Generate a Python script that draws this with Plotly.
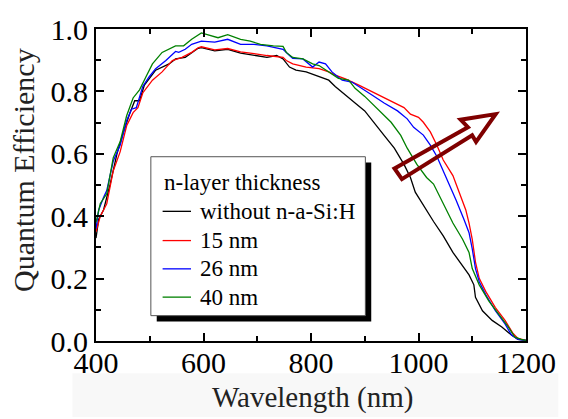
import plotly.graph_objects as go

# ---------------- data ----------------
wl_black = [400, 405, 414, 426, 439, 451, 463, 472, 481, 490, 511, 536, 548, 566, 590, 596, 621, 645, 669, 694, 718, 736, 748, 760, 772, 791, 815, 833, 845, 864, 882, 900, 918, 936, 955, 973, 985, 994, 1028, 1046, 1064, 1082, 1094, 1103, 1106, 1119, 1137, 1155, 1173, 1185, 1200]
qe_black = [0.33, 0.39, 0.42, 0.50, 0.60, 0.67, 0.73, 0.77, 0.77, 0.82, 0.868, 0.888, 0.904, 0.909, 0.938, 0.94, 0.93, 0.935, 0.923, 0.915, 0.909, 0.915, 0.904, 0.878, 0.868, 0.8625, 0.847, 0.836, 0.816, 0.79, 0.763, 0.7375, 0.70, 0.659, 0.618, 0.566, 0.524, 0.477, 0.383, 0.337, 0.284, 0.243, 0.212, 0.18, 0.14, 0.097, 0.066, 0.045, 0.019, 0.005, 0.002]

wl_15 = [400, 408, 420, 432, 445, 457, 469, 478, 487, 505, 523, 542, 560, 578, 590, 596, 621, 645, 669, 694, 718, 748, 754, 766, 791, 815, 833, 845, 864, 888, 912, 930, 955, 973, 985, 1000, 1009, 1022, 1034, 1046, 1064, 1076, 1088, 1094, 1100, 1106, 1113, 1125, 1143, 1161, 1176, 1185, 1200]
qe_15 = [0.35, 0.40, 0.44, 0.545, 0.607, 0.69, 0.732, 0.748, 0.795, 0.836, 0.8625, 0.899, 0.909, 0.925, 0.94, 0.943, 0.933, 0.9375, 0.927, 0.92, 0.915, 0.909, 0.899, 0.888, 0.878, 0.873, 0.8625, 0.852, 0.84, 0.821, 0.80, 0.784, 0.763, 0.748, 0.727, 0.717, 0.701, 0.67, 0.628, 0.58, 0.53, 0.472, 0.42, 0.378, 0.326, 0.253, 0.201, 0.159, 0.107, 0.066, 0.024, 0.008, 0.002]

wl_26 = [400, 405, 414, 420, 432, 445, 457, 466, 475, 487, 499, 511, 530, 548, 554, 566, 578, 596, 621, 645, 669, 694, 718, 748, 760, 766, 785, 803, 815, 827, 839, 858, 876, 888, 912, 936, 961, 979, 991, 1009, 1022, 1034, 1046, 1058, 1070, 1085, 1094, 1100, 1106, 1113, 1125, 1143, 1161, 1173, 1185, 1200]
qe_26 = [0.36, 0.42, 0.46, 0.482, 0.576, 0.628, 0.706, 0.743, 0.748, 0.816, 0.847, 0.873, 0.899, 0.928, 0.925, 0.935, 0.951, 0.961, 0.958, 0.967, 0.951, 0.951, 0.946, 0.935, 0.915, 0.906, 0.904, 0.878, 0.894, 0.888, 0.8625, 0.836, 0.83, 0.816, 0.79, 0.763, 0.7375, 0.712, 0.685, 0.66, 0.628, 0.592, 0.545, 0.50, 0.451, 0.388, 0.347, 0.295, 0.232, 0.19, 0.149, 0.097, 0.055, 0.019, 0.005, 0.002]

wl_40 = [400, 408, 420, 432, 445, 457, 469, 481, 493, 505, 523, 548, 563, 578, 596, 627, 645, 669, 687, 706, 730, 748, 754, 766, 785, 803, 815, 833, 851, 870, 882, 900, 924, 949, 967, 979, 997, 1015, 1028, 1046, 1064, 1082, 1094, 1100, 1113, 1131, 1149, 1167, 1179, 1191, 1200]
qe_40 = [0.38, 0.441, 0.472, 0.587, 0.639, 0.722, 0.779, 0.805, 0.847, 0.888, 0.925, 0.946, 0.946, 0.967, 0.9875, 0.972, 0.982, 0.967, 0.961, 0.951, 0.946, 0.944, 0.925, 0.909, 0.904, 0.888, 0.883, 0.8625, 0.842, 0.836, 0.81, 0.784, 0.743, 0.701, 0.659, 0.618, 0.566, 0.524, 0.503, 0.44, 0.378, 0.326, 0.284, 0.232, 0.18, 0.128, 0.087, 0.045, 0.013, 0.005, 0.002]

series_names = ["without n-a-Si:H", "15 nm", "26 nm", "40 nm"]
series_colors = ["#000000", "#ff0000", "#0000ff", "#008000"]
legend_title = "n-layer thickness"
x_ticks = [400, 600, 800, 1000, 1200]
y_ticks = [0.0, 0.2, 0.4, 0.6, 0.8, 1.0]

# ---------------- layout geometry (pixels) ----------------
W, H = 568, 419
L, R, T, B = 96, 535, 21, 341
FONT = "Times New Roman, Liberation Serif, Tinos, serif"

def px(x):
    return (x - L) / (R - L)

def py(y):
    return (B - y) / (B - T)

fig = go.Figure()
for wl, qe, name, col in zip([wl_black, wl_15, wl_26, wl_40],
                             [qe_black, qe_15, qe_26, qe_40],
                             series_names, series_colors):
    fig.add_trace(go.Scatter(x=wl, y=qe, mode="lines", name=name,
                             line=dict(color=col, width=1.3),
                             showlegend=False))

shapes = []
annotations = []

# faint gray band behind x title
shapes.append(dict(type="rect", xref="paper", yref="paper", layer="below",
                   x0=px(72), x1=px(568), y0=py(374), y1=py(419),
                   fillcolor="#f8f8f8", line=dict(width=0)))

# legend box with shadow
lx0, ly0, lx1, ly1 = 152, 152, 371, 315
shapes.append(dict(type="rect", xref="paper", yref="paper",
                   x0=px(lx0 + 6), x1=px(lx1 + 6), y0=py(ly0 + 6), y1=py(ly1 + 6),
                   fillcolor="black", line=dict(width=0)))
shapes.append(dict(type="rect", xref="paper", yref="paper",
                   x0=px(lx0), x1=px(lx1), y0=py(ly0), y1=py(ly1),
                   fillcolor="white", line=dict(color="#555555", width=1)))
annotations.append(dict(xref="paper", yref="paper", x=px(163), y=py(178),
                        xanchor="left", yanchor="middle", showarrow=False,
                        text=legend_title, font=dict(family=FONT, size=23, color="black")))
row_y = [208, 238, 267, 296]
for yy, name, col in zip(row_y, series_names, series_colors):
    shapes.append(dict(type="line", xref="paper", yref="paper",
                       x0=px(164), x1=px(193), y0=py(yy), y1=py(yy),
                       line=dict(color=col, width=1.3)))
    annotations.append(dict(xref="paper", yref="paper", x=px(200), y=py(yy),
                            xanchor="left", yanchor="middle", showarrow=False,
                            text=name, font=dict(family=FONT, size=23, color="black")))

# hollow arrow
arrow_pts = [(400.7, 164), (475.7, 121.7), (468.3, 114), (504, 108.3),
             (484, 136.7), (480, 130), (408.3, 175)]
path = "M " + " L ".join(f"{px(a):.5f},{py(b):.5f}" for a, b in arrow_pts) + " Z"
shapes.append(dict(type="path", xref="paper", yref="paper", path=path,
                   line=dict(color="#7f0000", width=4), fillcolor="rgba(0,0,0,0)"))

# axis titles
annotations.append(dict(xref="paper", yref="paper", x=px(317), y=py(399),
                        xanchor="center", yanchor="middle", showarrow=False,
                        text="Wavelength (nm)", font=dict(family=FONT, size=29, color="#222222")))
annotations.append(dict(xref="paper", yref="paper", x=px(22), y=py(166),
                        xanchor="center", yanchor="middle", showarrow=False, textangle=-90,
                        text="Quantum Efficiency", font=dict(family=FONT, size=30, color="#222222")))

axis_common = dict(showline=True, linecolor="black", linewidth=2, mirror="ticks",
                   ticks="inside", ticklen=8, tickwidth=1.5, tickcolor="black",
                   showgrid=False, zeroline=False,
                   tickfont=dict(family=FONT, size=30, color="black"))

fig.update_layout(
    width=W, height=H,
    margin=dict(l=L, r=W - R, t=T, b=H - B, pad=0),
    paper_bgcolor="white", plot_bgcolor="white",
    showlegend=False,
    xaxis=dict(range=[400, 1200], tickvals=x_ticks, ticktext=[str(v) for v in x_ticks],
               ticklabelstandoff=-6,
               minor=dict(dtick=100, ticks="inside", ticklen=5, tickwidth=1.5, tickcolor="black"),
               **axis_common),
    yaxis=dict(range=[0, 1.0], tickvals=y_ticks, ticktext=[f"{v:.1f}" for v in y_ticks],
               minor=dict(dtick=0.1, ticks="inside", ticklen=5, tickwidth=1.5, tickcolor="black"),
               **axis_common),
    shapes=shapes, annotations=annotations,
)

fig.write_html("out.html")
